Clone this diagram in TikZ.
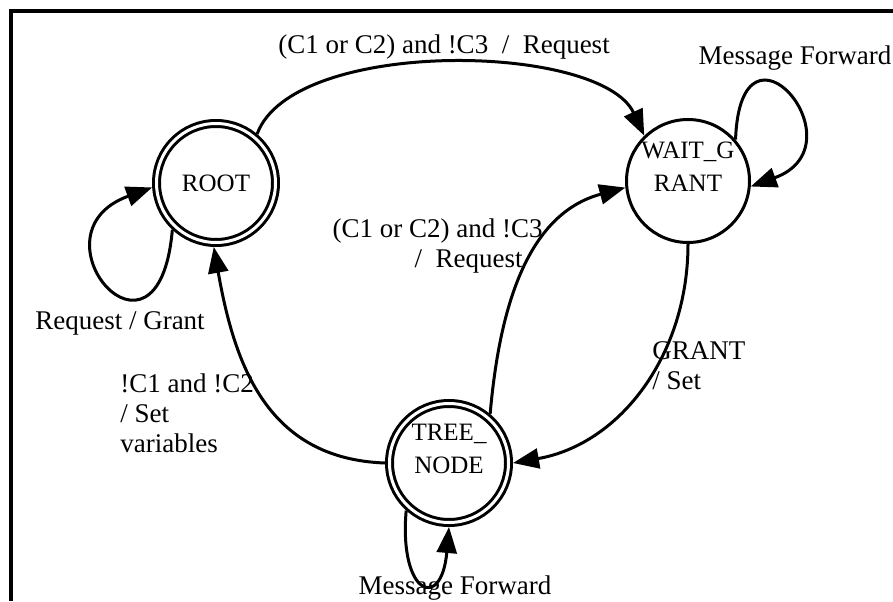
\documentclass[tikz,border=0pt]{standalone}
\usepackage{fontspec}
\setmainfont{Liberation Serif}
\usetikzlibrary{arrows.meta}

\begin{document}
\begin{tikzpicture}[x=0.5pt, y=0.5pt,
    lbl/.style={inner sep=0pt, font=\fontsize{13.5}{15}\selectfont},
    circ/.style={circle, draw, line width=1.5pt, minimum size=61.5pt, inner sep=0pt,
      align=center, font=\fontsize{12.5}{16.5}\selectfont},
    dcirc/.style={circ, double, double distance=1.5pt, minimum size=59.5pt, outer sep=2.25pt},
    trans/.style={line width=1.5pt, -{Triangle[length=13pt,width=10pt]}}]
  \useasboundingbox (0,0) rectangle (893,601);
  % frame (top and left edge only)
  \draw[line width=1.8pt] (11,0) -- (11,590) -- (893,590);

  % states
  \node[dcirc] (root) at (216,418) {ROOT};
  \node[circ, text depth=14pt] (wait) at (688,420) {WAIT\_G\\RANT};
  \node[dcirc, text depth=14pt] (tree) at (449,138) {TREE\_\\NODE};

  % transitions
  \draw[trans] (root.50) to[out=70, in=115, looseness=0.68] (wait.134);
  \draw[trans] (wait.41) .. controls +(88:140) and +(20:120) .. (wait.355);
  \draw[trans] (wait.270) to[out=270, in=10] (tree.0);
  \draw[trans] (tree.50) to[out=85, in=195] (wait.186);
  \draw[trans] (tree.180) to[out=178, in=280, looseness=1.1] (root.268);
  \draw[trans] (root.227) .. controls +(265:160) and +(200:135) .. (root.184);
  \draw[trans] (tree.228) .. controls +(265:85) and +(265:85) .. (tree.270);

  % labels
  \node[lbl] (l1) at (444,554) {(C1 or C2) and !C3\ \ /\ \ Request};
  \node[lbl] (l2) at (795,543) {Message Forward};
  \node[lbl, anchor=west, align=left] (l3) at (652,235) {GRANT\\/ Set};
  \node[lbl, anchor=east, align=right] (l4) at (543,355) {(C1 or C2) and !C3\\/\ \ Request\hspace*{10pt}};
  \node[lbl, anchor=west, align=left] (l5) at (120,188) {!C1 and !C2\\/ Set\\variables};
  \node[lbl] (l6) at (120,278) {Request / Grant};
  \node[lbl] (l7) at (455,13) {Message Forward};
\end{tikzpicture}
\end{document}
